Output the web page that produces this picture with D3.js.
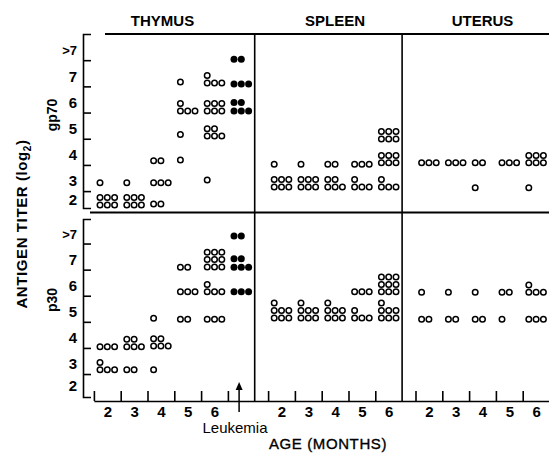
<!DOCTYPE html>
<html><head><meta charset="utf-8">
<script src="https://cdn.jsdelivr.net/npm/d3@7/dist/d3.min.js"></script>
<style>
body{margin:0;background:#fff}
text{font-family:"Liberation Sans",Arial,Helvetica,sans-serif;fill:#000}
</style>
</head><body>
<svg id="chart" width="549" height="454"></svg>
<script>
// ---------- data ----------
const organs = ["THYMUS", "SPLEEN", "UTERUS"];
const antigens = ["gp70", "p30"];
const ageLabels = ["2", "3", "4", "5", "6"];
const titerLabels = ["2", "3", "4", "5", "6", "7", ">7"];
const xTitle = "AGE (MONTHS)";
const yTitle = "ANTIGEN TITER (log";
const leukemiaLabel = "Leukemia";

// each row: [age index (0..4 = months 2..6, 5 = leukemic), titer (log2), number of mice]
const thymusGp70 = [
  [0, 2.82, 1], [0, 1.97, 6],
  [1, 2.82, 1], [1, 1.97, 6],
  [2, 3.66, 2], [2, 2.82, 3], [2, 2.01, 2],
  [3, 6.67, 1], [3, 5.56, 4], [3, 4.66, 1], [3, 3.69, 1],
  [4, 6.63, 4], [4, 5.56, 6], [4, 4.60, 5], [4, 2.92, 1]
];
const thymusGp70Leukemic = [[5, 7.54, 2], [5, 6.59, 3], [5, 5.56, 5]];
const spleenGp70 = [
  [0, 3.53, 1], [0, 2.66, 6],
  [1, 3.53, 1], [1, 2.66, 6],
  [2, 3.53, 2], [2, 2.66, 5],
  [3, 3.53, 3], [3, 2.66, 4],
  [4, 4.49, 6], [4, 3.58, 6], [4, 2.66, 4]
];
const uterusGp70 = [
  [0, 3.58, 3], [1, 3.58, 3],
  [2, 3.58, 2], [2, 2.63, 1],
  [3, 3.58, 3],
  [4, 3.58, 6], [4, 2.63, 1]
];
const thymusP30 = [
  [0, 3.55, 3], [0, 2.66, 4],
  [1, 3.55, 5], [1, 2.66, 2],
  [2, 4.64, 1], [2, 3.57, 5], [2, 2.66, 1],
  [3, 6.59, 2], [3, 5.65, 3], [3, 4.60, 2],
  [4, 6.60, 9], [4, 5.65, 4], [4, 4.60, 3]
];
const thymusP30Leukemic = [[5, 7.79, 2], [5, 6.59, 5], [5, 5.65, 3]];
const spleenP30 = [
  [0, 4.65, 7], [1, 4.65, 7], [2, 4.65, 7],
  [3, 5.65, 3], [3, 4.65, 4],
  [4, 5.65, 9], [4, 4.65, 7]
];
const uterusP30 = [
  [0, 5.63, 1], [0, 4.60, 2],
  [1, 5.63, 1], [1, 4.60, 2],
  [2, 5.63, 1], [2, 4.60, 2],
  [3, 5.63, 2], [3, 4.60, 1],
  [4, 5.63, 4], [4, 4.60, 3]
];

// ---------- layout ----------
const svg = d3.select("#chart");
const organStart = [0, 6.5, 12];       // slot offsets of each organ block
const x = d3.scaleLinear().domain([-0.5, 16.5]).range([93.9, 549.5]);
const yTop = d3.scaleLinear().domain([1.855, 8.5]).range([208, 34]);
const yBot = d3.scaleLinear().domain([1.62, 8.44]).range([397, 219]);
const panels = [
  {ant: 0, y: yTop, labelY: 115},
  {ant: 1, y: yBot, labelY: 300}
];
const dx = 7.3, dy = 7.4;

function dots(groups, organ, yScale, filled) {
  const out = [];
  groups.forEach(([age, titer, n]) => {
    const cx = x(organStart[organ] + age);
    for (let i = 0; i < n; i++) {
      const col = i % 3, row = Math.floor(i / 3);
      out.push({cx: cx + (col - 1) * dx, cy: yScale(titer) - row * (filled ? 8.6 : dy), filled});
    }
  });
  return out;
}

const allDots = [
  ...dots(thymusGp70, 0, yTop, false),
  ...dots(thymusGp70Leukemic, 0, yTop, true),
  ...dots(spleenGp70, 1, yTop, false),
  ...dots(uterusGp70, 2, yTop, false),
  ...dots(thymusP30, 0, yBot, false),
  ...dots(thymusP30Leukemic, 0, yBot, true),
  ...dots(spleenP30, 1, yBot, false),
  ...dots(uterusP30, 2, yBot, false)
];

const baseY = 401;
// frame lines
const div1 = x(5.5), div2 = x(11);
svg.append("line").attr("x1", 105).attr("x2", 549).attr("y1", 34).attr("y2", 34)
  .attr("stroke", "#000").attr("stroke-width", 2);
svg.append("line").attr("x1", 90).attr("x2", 549).attr("y1", 212.5).attr("y2", 212.5)
  .attr("stroke", "#000").attr("stroke-width", 1.8);
[div1, div2].forEach(d => svg.append("line").attr("x1", d).attr("x2", d)
  .attr("y1", 34).attr("y2", baseY).attr("stroke", "#000").attr("stroke-width", 1.6));

// y axes (bracket style)
panels.forEach(p => {
  const g = svg.append("g").attr("transform", "translate(83,0)")
    .call(d3.axisRight(p.y).tickValues([2.5, 3.5, 4.5, 5.5, 6.5, 7.5])
      .tickSize(8).tickSizeOuter(8).tickFormat(""));
  g.selectAll("path,line").attr("stroke", "#000").attr("stroke-width", 1.6);
  const [d0, d1] = p.y.domain();
  titerLabels.forEach((t, i) => {
    const v = i + 2;
    const lo = Math.max(d0, v - 0.5), hi = Math.min(d1, v + 0.5);
    const yy = p.y((lo + hi) / 2) + (v === 2 ? 0 : 3);
    svg.append("text").attr("x", 77).attr("y", yy).attr("dy", "0.36em")
      .attr("text-anchor", "end").attr("font-size", t === ">7" ? 13 : 15)
      .attr("font-weight", "bold").text(t);
  });
  svg.append("text").attr("transform", `translate(57,${p.labelY}) rotate(-90)`)
    .attr("text-anchor", "middle").attr("font-size", 14).attr("font-weight", "bold")
    .text(antigens[p.ant]);
});

// x axis
const tickSlots = [-0.5, 0.5, 1.5, 2.5, 3.5, 4.5, 6, 7, 8, 9, 10, 11.5, 12.5, 13.5, 14.5, 15.5];
const xa = svg.append("g").attr("transform", `translate(0,${baseY})`)
  .call(d3.axisBottom(x).tickValues(tickSlots).tickSize(-10).tickSizeOuter(0).tickFormat(""));
xa.selectAll("path,line").attr("stroke", "#000").attr("stroke-width", 1.6);

const labelSlots = [], labelText = [];
organs.forEach((o, oi) => ageLabels.forEach((a, ai) => {
  labelSlots.push(organStart[oi] + ai); labelText.push(a);
}));
const xl = svg.append("g").attr("transform", `translate(0,${baseY})`)
  .call(d3.axisBottom(x).tickValues(labelSlots).tickSize(0).tickPadding(5)
    .tickFormat((d, i) => labelText[i]));
xl.select(".domain").remove();
xl.selectAll("text").attr("font-size", 15).attr("font-weight", "bold")
  .attr("font-family", "Liberation Sans, Arial, sans-serif");

// organ titles
organs.forEach((o, oi) => {
  const c = oi === 0 ? x(2.06) : x(organStart[oi] + 2);
  svg.append("text").attr("x", c).attr("y", 26).attr("text-anchor", "middle")
    .attr("font-size", 15).attr("font-weight", "bold").text(o);
});

// axis titles
svg.append("text").attr("x", 328).attr("y", 449).attr("text-anchor", "middle")
  .attr("font-size", 15).attr("letter-spacing", 0.6)
  .attr("stroke", "#000").attr("stroke-width", 0.35).text(xTitle);
const yt = svg.append("text").attr("transform", "translate(27,224) rotate(-90)")
  .attr("text-anchor", "middle").attr("font-size", 15).attr("font-weight", "bold")
  .attr("letter-spacing", 0.6);
yt.append("tspan").text(yTitle);
yt.append("tspan").attr("font-size", 10).attr("dy", 4).text("2");
yt.append("tspan").attr("dy", -4).text(")");

// leukemia annotation
const ax = x(5) - 2.2;
svg.append("line").attr("x1", ax).attr("x2", ax).attr("y1", 388).attr("y2", 412)
  .attr("stroke", "#000").attr("stroke-width", 1.5);
svg.append("path").attr("d", `M${ax},382L${ax - 3.5},390L${ax + 3.5},390Z`).attr("fill", "#000");
svg.append("text").attr("x", 235).attr("y", 433).attr("text-anchor", "middle")
  .attr("font-size", 15).text(leukemiaLabel);

// dots
svg.append("g").selectAll("circle").data(allDots).join("circle")
  .attr("cx", d => d.cx).attr("cy", d => d.cy)
  .attr("r", d => d.filled ? 3.5 : 2.75)
  .attr("fill", d => d.filled ? "#000" : "#fff")
  .attr("stroke", "#000").attr("stroke-width", d => d.filled ? 0 : 1.5);
</script>
</body></html>
